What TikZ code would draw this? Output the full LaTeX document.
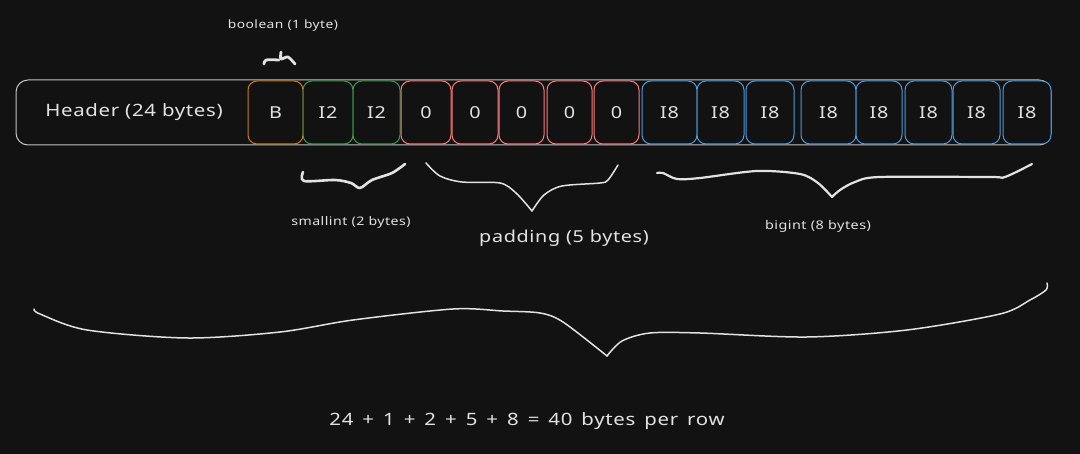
\documentclass[tikz,border=0pt]{standalone}
\usepackage{fontspec}
\setmainfont{Noto Sans}[FakeStretch=1.2, LetterSpace=4]
\definecolor{bg}{HTML}{121212}
\definecolor{ink}{HTML}{E2E2E2}
\definecolor{frame}{HTML}{C4C4C4}
\definecolor{cbool}{HTML}{C77C1E}
\definecolor{csmall}{HTML}{3A9A4A}
\definecolor{cpad}{HTML}{FF7A7A}
\definecolor{cbig}{HTML}{4A9BE0}
\newcommand{\widespace}{\spaceskip=9pt plus 1pt\relax}
\tikzset{
  cell/.style={draw, rounded corners=9pt, fill=bg, line width=1pt, inner sep=0pt,
    minimum height=63pt, text=ink, font=\fontsize{16.5}{18}\selectfont},
  lbl/.style={text=ink, inner sep=0pt},
  brace/.style={draw=ink, line cap=round, line join=round},
}
\newcommand{\cellat}[5]{% name, x1, x2, color, text
  \node[cell, draw=#4, minimum width=#3pt-#2pt] (#1) at ({(#2+#3)/2}, 112.5) {#5};}
\begin{document}
\begin{tikzpicture}[x=1pt,y=-1pt]
\fill[bg] (0,0) rectangle (1080,454);
\useasboundingbox (0,0) rectangle (1080,454);
% outer row
\node[draw=frame, line width=1pt, rounded corners=12pt, minimum width=1035pt, minimum height=65pt, inner sep=0pt] (row) at (533.5,112.5) {};
\node[lbl, font=\fontsize{17}{20}\selectfont] (hdr) at (134,112) {Header (24 bytes)};
% cells
\cellat{b}{248}{303}{cbool}{B}
\cellat{s1}{303}{353}{csmall}{I2}
\cellat{s2}{353}{400}{csmall}{I2}
\cellat{p1}{401}{451}{cpad}{0}
\cellat{p2}{452}{498}{cpad}{0}
\cellat{p3}{499}{544}{cpad}{0}
\cellat{p4}{547}{592}{cpad}{0}
\cellat{p5}{594}{639}{cpad}{0}
\cellat{g1}{642}{697}{cbig}{I8}
\cellat{g2}{697}{744}{cbig}{I8}
\cellat{g3}{746}{794}{cbig}{I8}
\cellat{g4}{801}{856}{cbig}{I8}
\cellat{g5}{856}{902}{cbig}{I8}
\cellat{g6}{905}{952}{cbig}{I8}
\cellat{g7}{953}{1000}{cbig}{I8}
\cellat{g8}{1003}{1051}{cbig}{I8}
% boolean label and tick
\node[lbl, font=\fontsize{11.5}{13}\selectfont] (lbool) at (283,26) {boolean (1 byte)};
\draw[brace, line width=2.8pt] plot[smooth, tension=0.5] coordinates {(264,64) (266,60) (279,60)};
\draw[brace, line width=2.8pt] plot[smooth, tension=0.5] coordinates {(281,52) (281,59) (288,57) (295,64)};
% smallint brace
\draw[brace, line width=2.6pt] plot[smooth, tension=0.5] coordinates {(303,172) (304,181) (335,180) (351,183) (360,188) (372,180) (392,173) (405,164)};
\node[lbl, font=\fontsize{11.8}{13}\selectfont] (lsmall) at (351,222) {smallint (2 bytes)};
% padding brace
\draw[brace, line width=1.5pt] plot[smooth, tension=0.5] coordinates {(426,163) (440,176) (462,182) (500,183) (516,193) (532,211)};
\draw[brace, line width=1.5pt] plot[smooth, tension=0.5] coordinates {(532,211) (544,195) (562,186) (600,183) (608,180) (618,165)};
\node[lbl, font=\fontsize{16.5}{19}\selectfont] (lpad) at (564,238) {padding (5 bytes)};
% bigint brace
\draw[brace, line width=2.2pt] plot[smooth, tension=0.5] coordinates {(657,173) (663,173) (677,179) (700,178) (757,171) (800,174) (818,183) (832,197)};
\draw[brace, line width=2.2pt] plot[smooth, tension=0.5] coordinates {(832,197) (840,190) (855,182) (880,177) (990,177) (1005,177) (1032,164)};
\node[lbl, font=\fontsize{12}{13}\selectfont] (lbig) at (818,226) {bigint (8 bytes)};
% big brace
\draw[brace, line width=1.5pt] plot[smooth, tension=0.5] coordinates {(34,309) (40,314) (87,330) (187,338) (280,332) (353,320) (453,309) (503,311) (540,313) (563,322) (607,356)};
\draw[brace, line width=1.5pt] plot[smooth, tension=0.5] coordinates {(607,356) (622,341) (650,333) (700,333) (807,337) (907,330) (1000,314) (1030,300) (1046,290) (1047,283)};
\node[lbl, font=\fontsize{17}{20}\selectfont] (total) at (527,421) {\widespace 24 + 1 + 2 + 5 + 8 = 40 bytes per row};
\end{tikzpicture}
\end{document}
